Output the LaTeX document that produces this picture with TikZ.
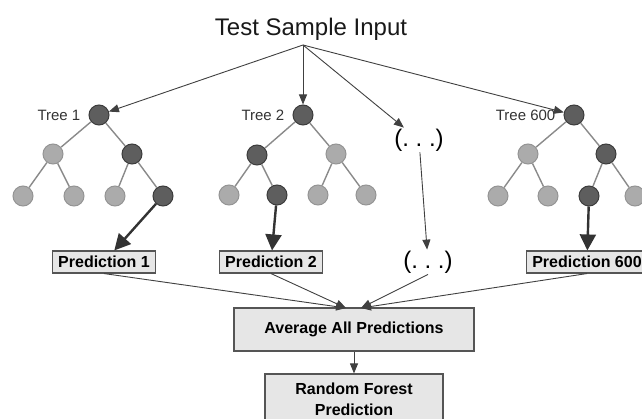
\documentclass[tikz,border=0pt]{standalone}
\usepackage{fontspec}
\setmainfont{Liberation Sans}
\usetikzlibrary{arrows.meta,positioning}

\definecolor{darkfill}{HTML}{5E5E5E}
\definecolor{darkline}{HTML}{3C3C3C}
\definecolor{lightfill}{HTML}{ABABAB}
\definecolor{lightline}{HTML}{949494}
\definecolor{edgegray}{HTML}{8A8A8A}
\definecolor{boxfill}{HTML}{E6E6E6}
\definecolor{boxline}{HTML}{555555}

\begin{document}
\begin{tikzpicture}[%
       x=1pt, y=-1pt,
       on grid,
       dark/.style={circle, inner sep=0pt, minimum size=20pt, fill=darkfill, draw=darkline, line width=1pt},
       light/.style={circle, inner sep=0pt, minimum size=20pt, fill=lightfill, draw=lightline, line width=1pt},
       branch/.style={draw=edgegray, line width=1.4pt},
       feed/.style={draw=black!75, line width=0.9pt, -{Triangle[length=10pt,width=8pt]}},
       vote/.style={draw=black!80, line width=2.4pt, -{Triangle[length=16pt,width=16pt]}},
       predbox/.style={draw=boxline, fill=boxfill, line width=1.1pt, font=\bfseries\fontsize{16}{19}\selectfont, inner xsep=6pt, inner ysep=0pt, minimum height=22pt},
       treelbl/.style={font=\fontsize{15}{18}\selectfont, text=black!80, inner sep=0pt},
       dots/.style={font=\fontsize{24}{28}\selectfont, inner sep=1pt}
     ]
     \clip (0,0) rectangle (642,419);

     \node[font=\fontsize{24}{28}\selectfont, text=black!90] (title) at (311,29) {Test Sample Input};
     \coordinate (apex) at (303,45);

     % tree 1
     \node[dark]  (r1)   at (99,115) {};
     \node[light] (r1l)  [below left=39pt and 46pt of r1]   {};
     \node[dark]  (r1r)  [below right=39pt and 33pt of r1]  {};
     \node[light] (r1ll) [below left=42pt and 30pt of r1l]  {};
     \node[light] (r1lr) [below right=42pt and 21pt of r1l] {};
     \node[light] (r1rl) [below left=42pt and 17pt of r1r]  {};
     \node[dark]  (r1rr) [below right=42pt and 31pt of r1r] {};
     \node[treelbl, anchor=east] (lab1) at ([xshift=-8pt]r1.west) {Tree 1};

     % tree 2
     \node[dark]  (r2)   at (303,115) {};
     \node[dark]  (r2l)  [below left=40pt and 46pt of r2]   {};
     \node[light] (r2r)  [below right=39pt and 33pt of r2]  {};
     \node[light] (r2ll) [below left=40pt and 28pt of r2l]  {};
     \node[dark]  (r2lr) [below right=40pt and 20pt of r2l] {};
     \node[light] (r2rl) [below left=41pt and 18pt of r2r]  {};
     \node[light] (r2rr) [below right=41pt and 30pt of r2r] {};
     \node[treelbl, anchor=east] (lab2) at ([xshift=-8pt]r2.west) {Tree 2};

     % tree 600
     \node[dark]  (r3)   at (574,115) {};
     \node[light] (r3l)  [below left=39pt and 46pt of r3]   {};
     \node[dark]  (r3r)  [below right=39pt and 32pt of r3]  {};
     \node[light] (r3ll) [below left=42pt and 30pt of r3l]  {};
     \node[light] (r3lr) [below right=42pt and 20pt of r3l] {};
     \node[dark]  (r3rl) [below left=42pt and 17pt of r3r]  {};
     \node[light] (r3rr) [below right=42pt and 29pt of r3r] {};
     \node[treelbl, anchor=east] (lab3) at ([xshift=-8pt]r3.west) {Tree 600};

     \path[branch] (r1) edge (r1l) edge (r1r) (r1l) edge (r1ll) edge (r1lr) (r1r) edge (r1rl) edge (r1rr);
     \path[branch] (r2) edge (r2l) edge (r2r) (r2l) edge (r2ll) edge (r2lr) (r2r) edge (r2rl) edge (r2rr);
     \path[branch] (r3) edge (r3l) edge (r3r) (r3l) edge (r3ll) edge (r3lr) (r3r) edge (r3rl) edge (r3rr);

     \node[dots] (dots1) at (419,140) {(.\ .\ .)};
     \node[dots] (dots2) at (428,262) {(.\ .\ .)};

     \node[predbox] (pred1)   at (104,262) {Prediction 1};
     \node[predbox] (pred2)   at (271,262) {Prediction 2};
     \node[predbox] (pred600) at (587,262) {Prediction 600};

     \node[predbox, minimum width=240pt, minimum height=43pt] (avg) at (354,329.5) {Average All Predictions};
     \node[predbox, minimum width=178pt, minimum height=50pt, align=center, font=\bfseries\fontsize{16}{21}\selectfont] (rf) at (354,399) {Random Forest\\Prediction};
     \coordinate (inL) at (346,308);
     \coordinate (inR) at (361,308);

     \draw[feed] (apex) -- (r1);
     \draw[feed] (apex) -- (r2);
     \draw[feed] (apex) -- (dots1);
     \draw[feed] (apex) -- (r3);
     \draw[feed] (dots1) -- (dots2);

     \draw[vote] (r1rr) -- (pred1);
     \draw[vote] (r2lr) -- (pred2);
     \draw[vote] (r3rl) -- (pred600);

     \draw[feed] (pred1.south) -- (inL);
     \draw[feed] (pred2.south) -- (inL);
     \draw[feed] (dots2.south) -- (inR);
     \draw[feed] (pred600.south) -- (inR);
     \draw[feed] (avg) -- (rf);
\end{tikzpicture}
\end{document}
